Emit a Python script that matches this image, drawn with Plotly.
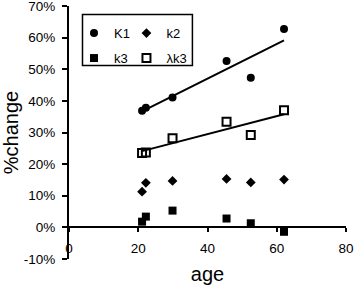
import numpy as np
import plotly.graph_objects as go

age = [21.1, 22.2, 29.9, 45.5, 52.5, 62.1]
K1 = [36.9, 37.8, 41.1, 52.6, 47.3, 62.7]
k2 = [11.3, 14.1, 14.7, 15.3, 14.2, 15.1]
k3 = [1.8, 3.4, 5.3, 2.8, 1.3, -1.4]
lk3 = [23.5, 23.7, 28.2, 33.4, 29.2, 37.0]

x_ticks = [0, 20, 40, 60, 80]
y_ticks = [-10, 0, 10, 20, 30, 40, 50, 60, 70]
y_tick_labels = ["-10%", "0%", "10%", "20%", "30%", "40%", "50%", "60%", "70%"]

FONT = "Liberation Sans, Arial, sans-serif"

def fit(x, y):
    b, a = np.polyfit(x, y, 1)
    xs = np.array([min(x), max(x)])
    return xs, a + b * xs

fig = go.Figure()
# one legend per entry, arranged as a 2x2 grid
fig.add_trace(go.Scatter(x=age, y=K1, mode="markers", name="K1", legend="legend",
                         marker=dict(symbol="circle", size=8, color="black")))
fig.add_trace(go.Scatter(x=age, y=k2, mode="markers", name="k2", legend="legend2",
                         marker=dict(symbol="diamond", size=7.5, color="black")))
fig.add_trace(go.Scatter(x=age, y=k3, mode="markers", name="k3", legend="legend3",
                         marker=dict(symbol="square", size=8, color="black")))
fig.add_trace(go.Scatter(x=age, y=lk3, mode="markers", name="λk3", legend="legend4",
                         marker=dict(symbol="square-open", size=8, color="black",
                                     line=dict(width=2, color="black"))))
for yy in (K1, lk3):
    xs, ys = fit(age, yy)
    fig.add_trace(go.Scatter(x=xs, y=ys, mode="lines", showlegend=False,
                             line=dict(color="black", width=2)))

L, R, T, B = 68.5, 8.3, 5.5, 26
PW = 354 - L - R
PH = 285 - T - B

def px_x(p):
    return (p - L) / PW

def px_y(p):
    return (285 - B - p) / PH

legend_common = dict(orientation="v", xanchor="left", yanchor="middle",
                     font=dict(family=FONT, size=13, color="black"),
                     bgcolor="rgba(0,0,0,0)", borderwidth=0, itemwidth=30)

COL1, COL2 = 73.5, 126
ROW1, ROW2 = 32.7, 57.7

fig.update_layout(
    width=354, height=285,
    margin=dict(l=L, r=R, t=T, b=B),
    paper_bgcolor="white", plot_bgcolor="white",
    font=dict(family=FONT, size=13.5, color="black"),
    showlegend=True,
    legend=dict(x=px_x(COL1), y=px_y(ROW1), **legend_common),
    legend2=dict(x=px_x(COL2), y=px_y(ROW1), **legend_common),
    legend3=dict(x=px_x(COL1), y=px_y(ROW2), **legend_common),
    legend4=dict(x=px_x(COL2), y=px_y(ROW2), **legend_common),
    xaxis=dict(range=[0, 80], tickvals=x_ticks, showgrid=False, zeroline=False,
               showline=True, linecolor="black", linewidth=2, automargin=False,
               ticks="outside", ticklen=4, tickwidth=1.5, tickcolor="black",
               anchor="free", position=0.125, ticklabelstandoff=4,
               ticklabeloverflow="allow",
               title=dict(text="age", font=dict(size=20), standoff=13)),
    yaxis=dict(range=[-10, 70], tickvals=y_ticks, ticktext=y_tick_labels,
               showgrid=False, zeroline=False, showline=True, linecolor="black",
               linewidth=2, ticks="outside", ticklen=5, tickwidth=1.5, tickcolor="black",
               ticklabelstandoff=4, automargin=False, ticklabeloverflow="allow",
               title=dict(text="%change", font=dict(size=20), standoff=14)),
    shapes=[dict(type="rect", xref="paper", yref="paper",
                 x0=px_x(82), x1=px_x(192), y0=px_y(65), y1=px_y(14),
                 line=dict(color="black", width=1.5))],
)

fig.write_html("out.html", config={"displayModeBar": False},
               post_script="document.body.style.margin='0';document.body.style.overflow='hidden';")
